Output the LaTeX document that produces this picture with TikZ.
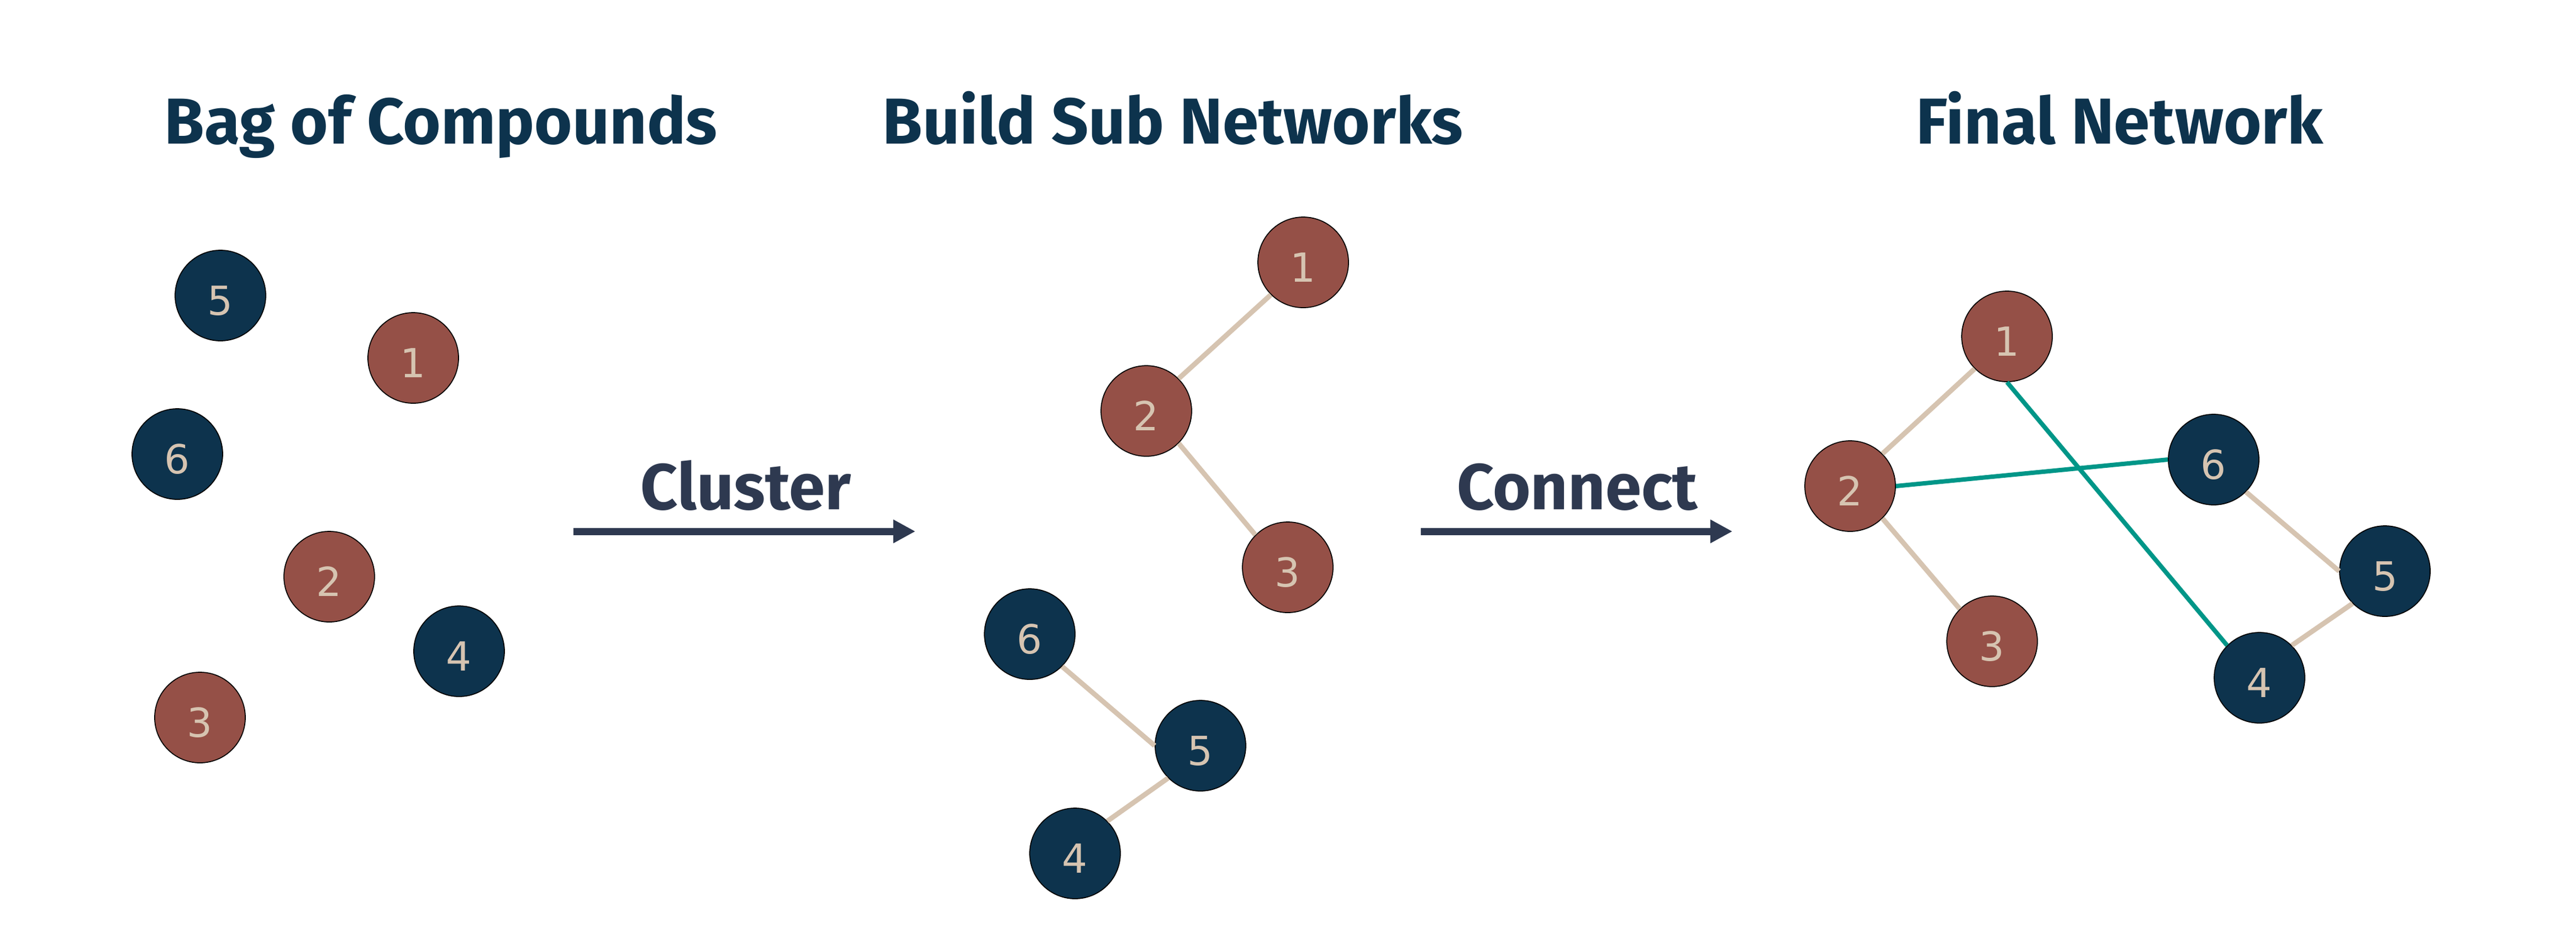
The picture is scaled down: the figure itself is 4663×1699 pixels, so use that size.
\documentclass[tikz,border=0pt]{standalone}
\usepackage{fontspec}
\newfontfamily\titlefont{Fira Sans}
\newfontfamily\digitfont{DejaVu Sans}
\usetikzlibrary{arrows.meta}
\definecolor{navyc}{HTML}{0D334D}
\definecolor{brownc}{HTML}{955047}
\definecolor{beigec}{HTML}{D6C4B1}
\definecolor{tealc}{HTML}{009688}
\definecolor{slatec}{HTML}{2E3950}
\begin{document}
\begin{tikzpicture}[x=0.2pt,y=-0.2pt,
  cmpd/.style={circle,draw=black,line width=0.35pt,minimum size=32.8pt,inner sep=0pt,
    font=\digitfont\fontsize{14.5pt}{14.5pt}\selectfont,text=beigec,text height=14.2pt,text depth=0pt},
  redc/.style={cmpd,fill=brownc},
  bluec/.style={cmpd,fill=navyc},
  bond/.style={draw=beigec,line width=1.8pt},
  linkc/.style={draw=tealc,line width=1.6pt},
  heading/.style={anchor=base,text=navyc,font=\titlefont\bfseries\fontsize{23.5pt}{28pt}\selectfont},
  steplabel/.style={anchor=base,text=slatec,font=\titlefont\bfseries\fontsize{23.5pt}{28pt}\selectfont},
  flow/.style={draw=slatec,line width=2.6pt,-{Triangle[length=8pt,width=8pt]}}
]
\useasboundingbox (0,0) rectangle (4663,1699);

% headings
\node[heading] (h1) at (798,260) {Bag of Compounds};
\node[heading] (h2) at (2123,260) {Build Sub Networks};
\node[heading] (h3) at (3837,260) {Final Network};

% bag of compounds
\node[bluec] (a5) at (399,535) {5};
\node[redc]  (a1) at (748,648) {1};
\node[bluec] (a6) at (321,822) {6};
\node[redc]  (a2) at (596,1044) {2};
\node[bluec] (a4) at (831,1179) {4};
\node[redc]  (a3) at (362,1299) {3};

% cluster arrow
\node[steplabel] (lc) at (1350,922) {Cluster};
\coordinate (c1s) at (1038,962);
\coordinate (c1e) at (1657,962);
\draw[flow] (c1s) -- (c1e);

% sub networks
\node[redc]  (b1) at (2359,475) {1};
\node[redc]  (b2) at (2075,744) {2};
\node[redc]  (b3) at (2331,1027) {3};
\node[bluec] (b6) at (1864,1148) {6};
\node[bluec] (b5) at (2173,1350) {5};
\node[bluec] (b4) at (1946,1545) {4};
\draw[bond] (b2.north east) -- (b1.south west);
\draw[bond] (b2.south east) -- (b3.north west);
\draw[bond] (b6.south east) -- (b5.west);
\draw[bond] (b5.south west) -- (b4.north east);

% connect arrow
\node[steplabel] (lk) at (2855,922) {Connect};
\coordinate (c2s) at (2572,962);
\coordinate (c2e) at (3136,962);
\draw[flow] (c2s) -- (c2e);

% final network
\node[redc]  (f1) at (3633,609) {1};
\node[redc]  (f2) at (3349,880) {2};
\node[redc]  (f3) at (3606,1161) {3};
\node[bluec] (f6) at (4007,832) {6};
\node[bluec] (f5) at (4317,1034) {5};
\node[bluec] (f4) at (4090,1227) {4};
\draw[bond] (f2.north east) -- (f1.south west);
\draw[bond] (f2.south east) -- (f3.north west);
\draw[bond] (f6.south east) -- (f5.west);
\draw[bond] (f5.south west) -- (f4.north east);
\draw[linkc] (f2.east) -- (f6.west);
\draw[linkc] (f1.south) -- (f4.north west);
\end{tikzpicture}
\end{document}
